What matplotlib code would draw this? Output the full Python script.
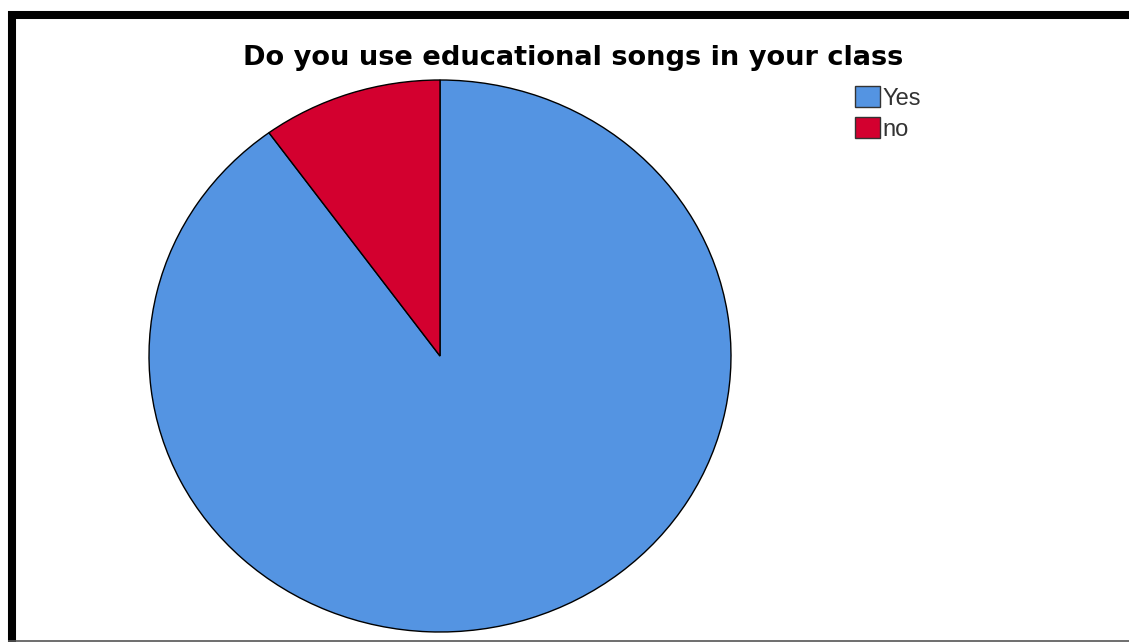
import matplotlib
matplotlib.use("Agg")
import matplotlib.pyplot as plt
from matplotlib.lines import Line2D

# survey answers (percent of teachers)
labels = ["Yes", "no"]
shares = [90, 10]
colors = ["#5494E2", "#D3002F"]

title = "Do you use educational songs in your class"

W, H = 1129, 642
fig = plt.figure(figsize=(W / 100, H / 100), dpi=100)
fig.patch.set_facecolor("white")

# pie is slightly stretched horizontally, so give it a non-square axes
ax = fig.add_axes([149 / W, (H - 632) / H, 582 / W, 552 / H])
wedges, _ = ax.pie(shares, colors=colors, startangle=90, counterclock=False,
                   wedgeprops=dict(edgecolor="black", linewidth=1.0))
ax.set_aspect("auto")
ax.set_xlim(-1.0, 1.0)
ax.set_ylim(-1.0, 1.0)
ax.axis("off")

fig.text(573 / W, 1 - 58 / H, title, ha="center", va="center",
         fontsize=19.6, fontweight="bold", family="DejaVu Sans", color="black")

leg = fig.legend(wedges, labels, loc="upper left",
                 bbox_to_anchor=(855 / W, 1 - 86 / H),
                 frameon=False,
                 prop=dict(family="Liberation Sans", size=17),
                 handlelength=1.05, handleheight=1.0, handletextpad=0.1,
                 labelspacing=0.32, borderpad=0, borderaxespad=0)
for t in leg.get_texts():
    t.set_color("#333333")
for h in leg.legend_handles:
    h.set_edgecolor("#333333")

# frame: heavy top and left rules, thin grey bottom rule
fig.add_artist(Line2D([8 / W, 1.0], [1 - 15 / H, 1 - 15 / H], color="black",
                      linewidth=5.8, transform=fig.transFigure, solid_capstyle="butt"))
fig.add_artist(Line2D([11.5 / W, 11.5 / W], [0, 1 - 11 / H], color="black",
                      linewidth=5.8, transform=fig.transFigure, solid_capstyle="butt"))
fig.add_artist(Line2D([8 / W, 1.0], [1.5 / H, 1.5 / H], color="#555555",
                      linewidth=1.2, transform=fig.transFigure, solid_capstyle="butt"))

fig.savefig("out.png", dpi=100, facecolor="white")
